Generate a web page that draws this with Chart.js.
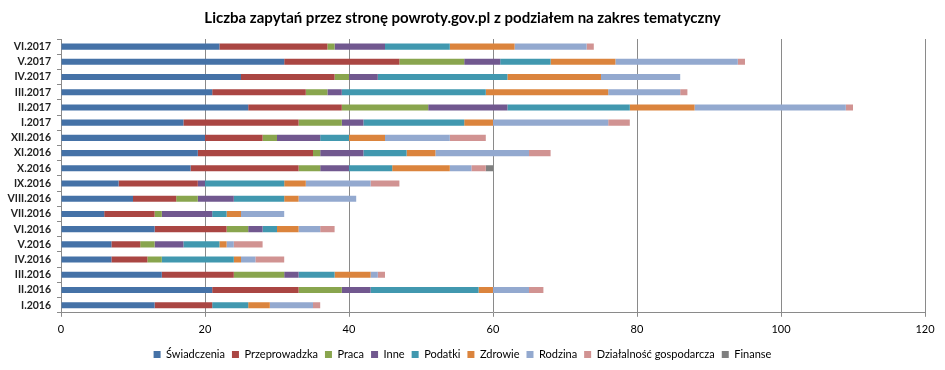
<!DOCTYPE html>
<html>
<head>
<meta charset="utf-8">
<script src="https://cdn.jsdelivr.net/npm/chart.js@4/dist/chart.umd.min.js"></script>
<style>
  html, body { margin: 0; padding: 0; background: #fff; }
  #wrap { width: 945px; height: 370px; }
</style>
</head>
<body>
<div id="wrap"><canvas id="chart"></canvas></div>
<script>
// Miesiące (od góry do dołu)
const months = ["VI.2017", "V.2017", "IV.2017", "III.2017", "II.2017", "I.2017",
  "XII.2016", "XI.2016", "X.2016", "IX.2016", "VIII.2016", "VII.2016",
  "VI.2016", "V.2016", "IV.2016", "III.2016", "II.2016", "I.2016"]

// Wartości dla każdej kategorii tematycznej
const swiadczenia   = [22, 31, 25, 21, 26, 17, 20, 19, 18, 8, 10, 6, 13, 7, 7, 14, 21, 13]
const przeprowadzka = [15, 16, 13, 13, 13, 16, 8, 16, 15, 11, 6, 7, 10, 4, 5, 10, 12, 8]
const praca         = [1, 9, 2, 3, 12, 6, 2, 1, 3, 0, 3, 1, 3, 2, 2, 7, 6, 0]
const inne          = [7, 5, 4, 2, 11, 3, 6, 6, 4, 1, 5, 7, 2, 4, 0, 2, 4, 0]
const podatki       = [9, 7, 18, 20, 17, 14, 4, 6, 6, 11, 7, 2, 2, 5, 10, 5, 15, 5]
const zdrowie       = [9, 9, 13, 17, 9, 4, 5, 4, 8, 3, 2, 2, 3, 1, 1, 5, 2, 3]
const rodzina       = [10, 17, 11, 10, 21, 16, 9, 13, 3, 9, 8, 6, 3, 1, 2, 1, 5, 6]
const dzialalnosc   = [1, 1, 0, 1, 1, 3, 5, 3, 2, 4, 0, 0, 2, 4, 4, 1, 2, 1]
const finanse       = [0, 0, 0, 0, 0, 0, 0, 0, 1, 0, 0, 0, 0, 0, 0, 0, 0, 0]

const xTicks = [0, 20, 40, 60, 80, 100, 120]

const series = [
  ["Świadczenia", swiadczenia, "#4572A7"],
  ["Przeprowadzka", przeprowadzka, "#AA4643"],
  ["Praca", praca, "#89A54E"],
  ["Inne", inne, "#71588F"],
  ["Podatki", podatki, "#4198AF"],
  ["Zdrowie", zdrowie, "#DB843D"],
  ["Rodzina", rodzina, "#93A9CF"],
  ["Działalność gospodarcza", dzialalnosc, "#D19392"],
  ["Finanse", finanse, "#7F7F7F"],
]

const FONT = "Lato, 'Open Sans', sans-serif"

new Chart(document.getElementById("chart"), {
  type: "bar",
  data: {
    labels: months,
    datasets: series.map(([label, data, color]) => ({
      label: label,
      data: data,
      backgroundColor: color,
      borderWidth: 0,
      barPercentage: 0.4,
      categoryPercentage: 1,
    })),
  },
  options: {
    indexAxis: "y",
    responsive: true,
    maintainAspectRatio: false,
    animation: false,
    layout: { padding: { left: 0, right: 20, top: 0, bottom: 0 } },
    plugins: {
      title: {
        display: true,
        text: "Liczba zapytań przez stronę powroty.gov.pl z podziałem na zakres tematyczny",
        font: { family: FONT, size: 15, weight: "bold" },
        color: "#000",
        padding: { top: 9, bottom: 12 },
      },
      legend: {
        display: true,
        position: "bottom",
        labels: {
          font: { family: FONT, size: 11 },
          color: "#000",
          boxWidth: 7,
          boxHeight: 7,
          padding: 7,
        },
      },
      tooltip: { enabled: false },
    },
    scales: {
      x: {
        stacked: true,
        min: 0,
        max: 120,
        afterBuildTicks: (axis) => {
          axis.ticks = xTicks.map((v) => ({ value: v }))
        },
        ticks: {
          font: { family: FONT, size: 11 },
          color: "#000",
          padding: 6,
        },
        grid: {
          color: "#8a8a8a",
          tickLength: 4,
        },
        border: { color: "#8a8a8a" },
      },
      y: {
        stacked: true,
        afterFit: (axis) => { axis.width = 61 },
        ticks: {
          autoSkip: false,
          font: { family: FONT, size: 10.5, weight: "bold" },
          color: "#222",
          padding: 6,
        },
        grid: {
          offset: true,
          drawOnChartArea: false,
          color: "#8a8a8a",
          tickLength: 4,
        },
        border: { color: "#8a8a8a" },
      },
    },
  },
})
</script>
</body>
</html>
